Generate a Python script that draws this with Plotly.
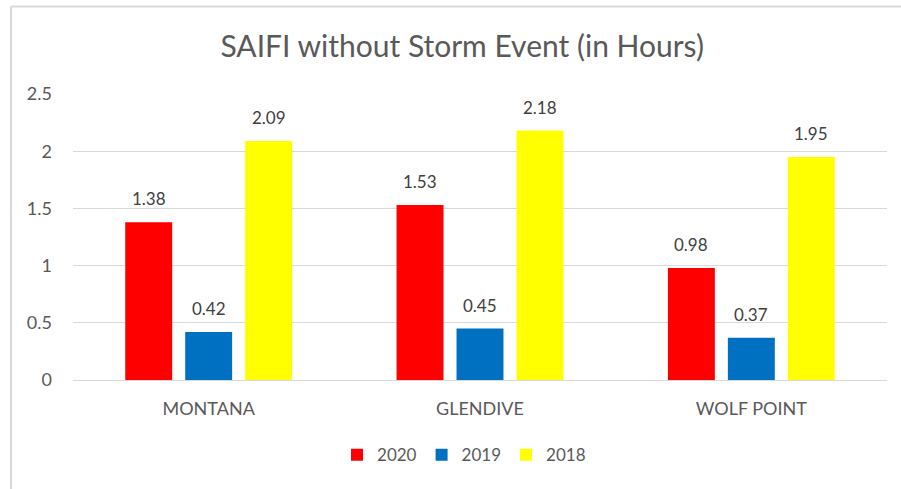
import plotly.graph_objects as go

categories = ["MONTANA", "GLENDIVE", "WOLF POINT"]
series_names = ["2020", "2019", "2018"]
values_2020 = [1.38, 1.53, 0.98]
values_2019 = [0.42, 0.45, 0.37]
values_2018 = [2.09, 2.18, 1.95]
colors = ["#FF0000", "#0070C0", "#FFFF00"]
title_text = "SAIFI without Storm Event (in Hours)"
y_ticks = [0, 0.5, 1, 1.5, 2, 2.5]
y_tick_labels = ["0", "0.5", "1", "1.5", "2", "2.5"]

FONT = "Lato, 'Open Sans', sans-serif"
TXT = "#595959"

fig = go.Figure()
all_vals = [values_2020, values_2019, values_2018]
for name, vals, col in zip(series_names, all_vals, colors):
    fig.add_trace(go.Bar(x=categories, y=vals, name=name, marker=dict(color=col, line=dict(width=0))))

# data labels as annotations above bars
offsets = [-60, 0, 60]
annotations = []
for vals, off in zip(all_vals, offsets):
    for c, v in zip(categories, vals):
        annotations.append(dict(x=c, y=v, xref="x", yref="y", text=f"{v:.2f}",
                                showarrow=False, xshift=off, yshift=11, yanchor="bottom",
                                font=dict(family=FONT, size=17, color="#404040")))

# chart border (in container pixels converted to paper units)
bx0 = (11 - 73) / 814
bx1 = (901 - 73) / 814
by_top = (380 - 6.5) / 286
by_bot = (380 - 489) / 286

fig.update_layout(
    width=901, height=489,
    margin=dict(l=73, r=14, t=94, b=109, autoexpand=False),
    paper_bgcolor="white", plot_bgcolor="white",
    title=dict(text=title_text, x=0.513, xanchor="center", y=0.904, yanchor="middle",
               yref="container", font=dict(family=FONT, size=30, color=TXT)),
    barmode="group", bargap=0.337, bargroupgap=0.217,
    showlegend=True,
    legend=dict(orientation="h", x=0.515, xanchor="center", y=0.069, yanchor="middle",
                xref="container", yref="container",
                font=dict(family=FONT, size=17, color=TXT), itemwidth=30, traceorder="normal"),
    xaxis=dict(showgrid=False, showline=False, ticks="", automargin=False,
               tickfont=dict(family=FONT, size=18, color=TXT), ticklabelstandoff=16),
    yaxis=dict(range=[0, 2.5], tickvals=y_ticks, ticktext=y_tick_labels, showgrid=True, automargin=False,
               gridcolor="#D9D9D9", gridwidth=1, zeroline=True, zerolinecolor="#D9D9D9", zerolinewidth=1,
               showline=False, ticks="", tickfont=dict(family=FONT, size=18, color=TXT),
               ticklabelstandoff=20),
    annotations=annotations,
    shapes=[
        dict(type="line", xref="paper", yref="paper", x0=bx0, x1=bx1, y0=by_top, y1=by_top,
             line=dict(color="#D9D9D9", width=2), layer="above"),
        dict(type="line", xref="paper", yref="paper", x0=bx0, x1=bx0, y0=by_top, y1=by_bot,
             line=dict(color="#D9D9D9", width=2), layer="above"),
    ],
)

fig.write_html("out.html", config={"displayModeBar": False},
               post_script="document.body.style.margin='0px';document.body.style.overflow='hidden';")
